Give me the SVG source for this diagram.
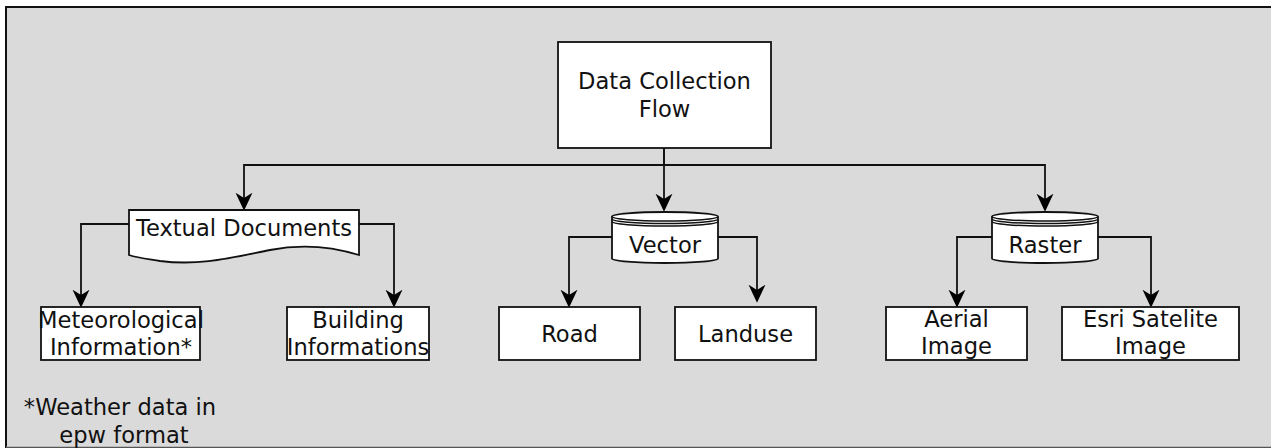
<svg xmlns="http://www.w3.org/2000/svg" width="1271" height="448" viewBox="0 0 1271 448">
  <style>
    .box { fill: #ffffff; stroke: #111111; stroke-width: 1.8; }
    .line { fill: none; stroke: #111111; stroke-width: 1.5; }
    .edge { fill: none; stroke: #111111; stroke-width: 1.8; marker-end: url(#arrow); }
    text { font-family: "DejaVu Sans", Verdana, sans-serif; font-size: 22.6px; fill: #111111; text-anchor: middle; }
  </style>
  <defs>
    <marker id="arrow" markerUnits="userSpaceOnUse" markerWidth="18" markerHeight="18" viewBox="0 0 17 16" refX="5" refY="8" orient="auto">
      <path d="M0,0 L17,8 L0,16 L5,8 Z" fill="#000000"/>
    </marker>
  </defs>

  <!-- background frame -->
  <rect x="6" y="7" width="1280" height="441" fill="#dadada" stroke="#111111" stroke-width="2"/>
  <line x1="6" y1="447" x2="1271" y2="447" stroke="#9a9a9a" stroke-width="1"/>

  <!-- connectors -->
  <g id="connectors">
    <path class="edge" d="M664,148 V165 H244 V198"/>
    <path class="edge" d="M664,148 V199"/>
    <path class="edge" d="M664,165 H1045 V199"/>
    <path class="edge" d="M129,224 H81 V295"/>
    <path class="edge" d="M359,224 H394 V295"/>
    <path class="edge" d="M612,237 H569 V295"/>
    <path class="edge" d="M718,237 H757 V290"/>
    <path class="edge" d="M992,237 H957 V295"/>
    <path class="edge" d="M1098,237 H1151 V295"/>
  </g>

  <g id="data-collection-flow">
    <rect class="box" x="558" y="42" width="213" height="106"/>
    <text x="664.5" y="89">Data Collection</text>
    <text x="664.5" y="117">Flow</text>
  </g>

  <g id="textual-documents">
    <path class="box" d="M129,210 H359 V255 C330,246 300,244 270,250 C230,258 200,266 160,261 C148,259 138,258 129,255 Z"/>
    <text x="244" y="236">Textual Documents</text>
  </g>

  <g id="vector">
    <path class="box" d="M612,216.5 A53,4.5 0 0 1 718,216.5 V258.5 A53,4.5 0 0 1 612,258.5 Z"/>
    <path class="line" d="M612,216.5 A53,4.5 0 0 0 718,216.5 M612,219 A53,4.5 0 0 0 718,219 M612,221.5 A53,4.5 0 0 0 718,221.5"/>
    <text x="665" y="253">Vector</text>
  </g>

  <g id="raster">
    <path class="box" d="M992,216.5 A53,4.5 0 0 1 1098,216.5 V258.5 A53,4.5 0 0 1 992,258.5 Z"/>
    <path class="line" d="M992,216.5 A53,4.5 0 0 0 1098,216.5 M992,219 A53,4.5 0 0 0 1098,219 M992,221.5 A53,4.5 0 0 0 1098,221.5"/>
    <text x="1045" y="253">Raster</text>
  </g>

  <g id="meteorological-information">
    <rect class="box" x="41" y="307" width="159" height="53"/>
    <text x="121" y="328">Meteorological</text>
    <text x="121" y="355">Information*</text>
  </g>

  <g id="building-informations">
    <rect class="box" x="287" y="307" width="142" height="53"/>
    <text x="358" y="328">Building</text>
    <text x="358" y="355">Informations</text>
  </g>

  <g id="road">
    <rect class="box" x="499" y="307" width="141" height="53"/>
    <text x="569.5" y="342">Road</text>
  </g>

  <g id="landuse">
    <rect class="box" x="675" y="307" width="141" height="53"/>
    <text x="745.5" y="342">Landuse</text>
  </g>

  <g id="aerial-image">
    <rect class="box" x="886" y="307" width="141" height="53"/>
    <text x="956.5" y="327">Aerial</text>
    <text x="956.5" y="354">Image</text>
  </g>

  <g id="esri-satelite-image">
    <rect class="box" x="1062" y="307" width="177" height="53"/>
    <text x="1150.5" y="327">Esri Satelite</text>
    <text x="1150.5" y="354">Image</text>
  </g>

  <g id="footnote">
    <text x="120" y="415">*Weather data in</text>
    <text x="124" y="443">epw format</text>
  </g>
</svg>
